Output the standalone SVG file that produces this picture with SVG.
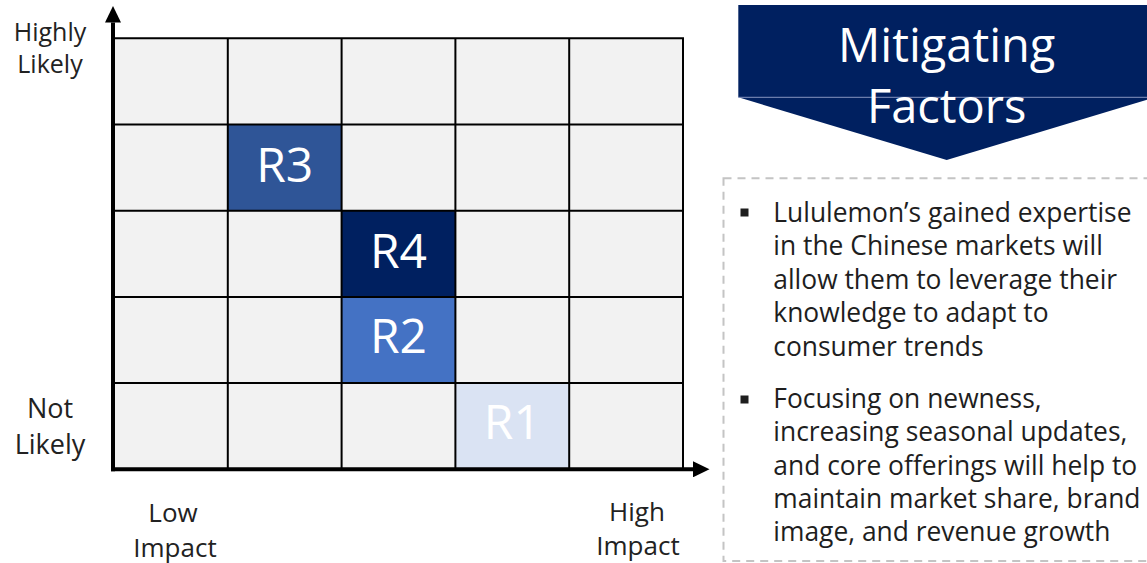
<svg xmlns="http://www.w3.org/2000/svg" width="1147" height="563" viewBox="0 0 1147 563">
  <style>
    text { font-family: "Open Sans", "Noto Sans", sans-serif; }
    .axis-label { font-size: 25px; fill: #222222; text-anchor: middle; }
    .axis-label-lg { font-size: 27px; fill: #222222; text-anchor: middle; }
    .cell { fill: #f2f2f2; }
    .grid-line { stroke: #000000; stroke-width: 2; fill: none; }
    .risk-label { font-size: 48px; fill: #ffffff; text-anchor: middle; }
    .banner-text { font-size: 47px; fill: #ffffff; text-anchor: middle; }
    .bullet-text { font-size: 26.4px; fill: #1e1e1e; }
    .bullet { fill: #1e1e1e; }
    .axis { stroke: #000000; stroke-width: 4; fill: none; }
  </style>
  <defs>
    <marker id="arrowhead" markerUnits="userSpaceOnUse" markerWidth="17" markerHeight="16" refX="0" refY="8" orient="auto">
      <path d="M0,0 L16.5,8 L0,16 Z" fill="#000000"/>
    </marker>
  </defs>

  <rect width="1147" height="563" fill="#ffffff"/>

  <!-- Risk matrix: 5 x 5 cells -->
  <g id="matrix">
    <rect class="cell" x="114" y="38.3" width="569" height="431"/>
    <rect id="cell-r3" x="227.8" y="124.5" width="113.8" height="86.2" fill="#2f5597"/>
    <rect id="cell-r4" x="341.6" y="210.7" width="113.8" height="86.2" fill="#002060"/>
    <rect id="cell-r2" x="341.6" y="296.9" width="113.8" height="86.2" fill="#4472c4"/>
    <rect id="cell-r1" x="455.4" y="383.1" width="113.8" height="86.2" fill="#dae3f3"/>
    <path class="grid-line" d="M114,38.3 H683 V469.3 M114,124.5 H683 M114,210.7 H683 M114,296.9 H683 M114,383.1 H683 M227.8,38.3 V469.3 M341.6,38.3 V469.3 M455.4,38.3 V469.3 M569.2,38.3 V469.3"/>
  </g>

  <g id="node-r3"><text class="risk-label" x="284.7" y="181.5">R3</text></g>
  <g id="node-r4"><text class="risk-label" x="398.5" y="268.3">R4</text></g>
  <g id="node-r2"><text class="risk-label" x="398.5" y="353.3">R2</text></g>
  <g id="node-r1"><text class="risk-label" x="512.3" y="439.3">R1</text></g>

  <!-- Axes -->
  <g id="connectors">
    <line class="axis" x1="113" y1="471.3" x2="113" y2="22.5" marker-end="url(#arrowhead)"/>
    <line class="axis" x1="111" y1="469.3" x2="693" y2="469.3" marker-end="url(#arrowhead)"/>
  </g>

  <!-- Axis labels -->
  <g id="label-highly-likely">
    <text class="axis-label" x="50" y="40.7">Highly</text>
    <text class="axis-label" x="50" y="73.3">Likely</text>
  </g>
  <g id="label-not-likely">
    <text class="axis-label-lg" x="50" y="418.3">Not</text>
    <text class="axis-label-lg" x="50" y="454">Likely</text>
  </g>
  <g id="label-low-impact">
    <text class="axis-label-lg" x="173" y="521.7" style="font-size:26px">Low</text>
    <text class="axis-label-lg" x="175" y="556.5" style="font-size:26px">Impact</text>
  </g>
  <g id="label-high-impact">
    <text class="axis-label-lg" x="637" y="520.7" style="font-size:26px">High</text>
    <text class="axis-label-lg" x="638" y="555" style="font-size:26px">Impact</text>
  </g>

  <!-- Banner -->
  <g id="banner">
    <polygon points="738.3,5 1155,5 1155,97.3 946.7,160 738.3,97.3" fill="#002060"/>
    <line x1="738.3" y1="97.3" x2="1147" y2="97.3" stroke="#8594c0" stroke-width="1"/>
    <text class="banner-text" x="946.7" y="61.7">Mitigating</text>
    <text class="banner-text" x="946.7" y="123.3">Factors</text>
  </g>

  <!-- Mitigation list -->
  <g id="factors-box">
    <rect x="723.5" y="178.3" width="440" height="382.7" fill="none" stroke="#c4c4c4" stroke-width="2" stroke-dasharray="8 6"/>
    <rect class="bullet" x="740.5" y="208.5" width="8" height="8"/>
    <text class="bullet-text">
      <tspan x="773.3" y="221.5">Lululemon’s gained expertise</tspan>
      <tspan x="773.3" y="255">in the Chinese markets will</tspan>
      <tspan x="773.3" y="288.5">allow them to leverage their</tspan>
      <tspan x="773.3" y="322">knowledge to adapt to</tspan>
      <tspan x="773.3" y="355.5">consumer trends</tspan>
    </text>
    <rect class="bullet" x="740.5" y="395.5" width="8" height="8"/>
    <text class="bullet-text">
      <tspan x="773.3" y="408">Focusing on newness,</tspan>
      <tspan x="773.3" y="441.3">increasing seasonal updates,</tspan>
      <tspan x="773.3" y="474.6">and core offerings will help to</tspan>
      <tspan x="773.3" y="507.9">maintain market share, brand</tspan>
      <tspan x="773.3" y="541.2">image, and revenue growth</tspan>
    </text>
  </g>
</svg>
